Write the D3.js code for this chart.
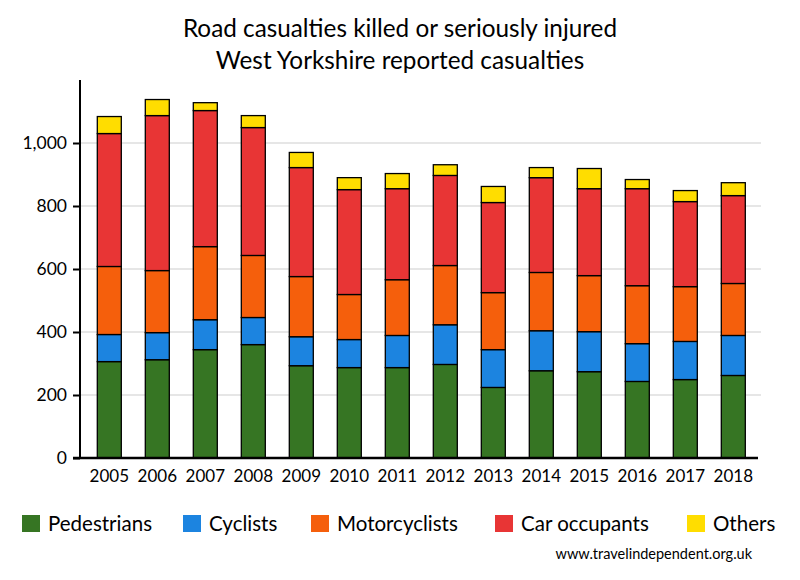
<!DOCTYPE html>
<html><head><meta charset="utf-8">
<script src="https://cdn.jsdelivr.net/npm/d3@7"></script>
<style>body{margin:0;background:#fff}svg{display:block}text{font-family:Lato,"Open Sans",sans-serif;fill:#000}</style>
</head><body>
<svg id="c" width="800" height="580"></svg>
<script>
const years = ["2005","2006","2007","2008","2009","2010","2011","2012","2013","2014","2015","2016","2017","2018"];
const seriesNames = ["Pedestrians","Cyclists","Motorcyclists","Car occupants","Others"];
const pedestrians  = [306,312,344,360,293,287,287,297,224,277,274,243,249,262];
const cyclists     = [ 86, 86, 95, 86, 92, 89,102,126,120,127,127,120,121,127];
const motorcyclists= [216,197,232,197,191,143,177,188,181,185,178,184,174,165];
const carOccupants = [422,492,432,406,346,333,289,286,286,301,276,308,270,279];
const others       = [ 54, 51, 25, 38, 48, 38, 48, 34, 51, 32, 64, 29, 35, 41];
const yTicks = [0,200,400,600,800,1000];
const colors = ["#367523","#1c84e0","#f55f0c","#e83535","#ffdd00"];

const seriesValues = [pedestrians,cyclists,motorcyclists,carOccupants,others];
const table = years.map((y,i)=>{const o={year:y};seriesNames.forEach((s,j)=>o[s]=seriesValues[j][i]);return o;});
const stack = d3.stack().keys(seriesNames)(table);

const svg = d3.select("#c");
const x = d3.scaleBand().domain(years).range([85.3,757.3]).paddingInner(0.5).paddingOuter(0.25);
const y = d3.scaleLinear().domain([0,1200]).range([458,80]);

// gridlines
svg.append("g").selectAll("line").data(yTicks.filter(d=>d>0)).join("line")
  .attr("x1",81).attr("x2",761).attr("y1",d=>y(d)).attr("y2",d=>y(d))
  .attr("stroke","#e6e6e6").attr("stroke-width",2);

// bars
const col = d3.scaleOrdinal().domain(seriesNames).range(colors);
svg.append("g").selectAll("g").data(stack).join("g").attr("fill",d=>col(d.key))
  .selectAll("rect").data(d=>d).join("rect")
  .attr("x",d=>x(d.data.year)).attr("width",x.bandwidth())
  .attr("y",d=>y(d[1])).attr("height",d=>y(d[0])-y(d[1]))
  .attr("stroke","#000").attr("stroke-width",1.3);

// y axis
const ya = svg.append("g").attr("transform","translate(80,0)")
  .call(d3.axisLeft(y).tickValues(yTicks).tickSize(7).tickPadding(6).tickFormat(d3.format(",")));
ya.select(".domain").attr("stroke","#000").attr("stroke-width",2).attr("d","M0,80V458");
ya.selectAll(".tick line").attr("stroke","#000").attr("stroke-width",2);
ya.selectAll(".tick text").attr("font-size",17.5).style("font-family","Lato,'Open Sans',sans-serif");

// x axis
const xa = svg.append("g").attr("transform","translate(0,458)")
  .call(d3.axisBottom(x).tickSize(0).tickPadding(12));
xa.select(".domain").attr("stroke","#000").attr("stroke-width",2.5).attr("d","M73,0H758");
xa.selectAll(".tick text").attr("font-size",17).style("font-family","Lato,'Open Sans',sans-serif");

// title
svg.append("text").attr("x",400).attr("y",37).attr("text-anchor","middle").attr("font-size",24.3).text("Road casualties killed or seriously injured");
svg.append("text").attr("x",400).attr("y",69).attr("text-anchor","middle").attr("font-size",24.3).text("West Yorkshire reported casualties");

// legend
const legX = [22,183,311,495,687];
const lg = svg.append("g").selectAll("g").data(seriesNames).join("g")
  .attr("transform",(d,i)=>`translate(${legX[i]},515)`);
lg.append("rect").attr("width",18).attr("height",17).attr("fill",d=>col(d));
lg.append("text").attr("x",26).attr("y",16).attr("font-size",20.5).text(d=>d);

svg.append("text").attr("x",752).attr("y",559).attr("text-anchor","end").attr("font-size",14.5).text("www.travelindependent.org.uk");
</script>
</body></html>
